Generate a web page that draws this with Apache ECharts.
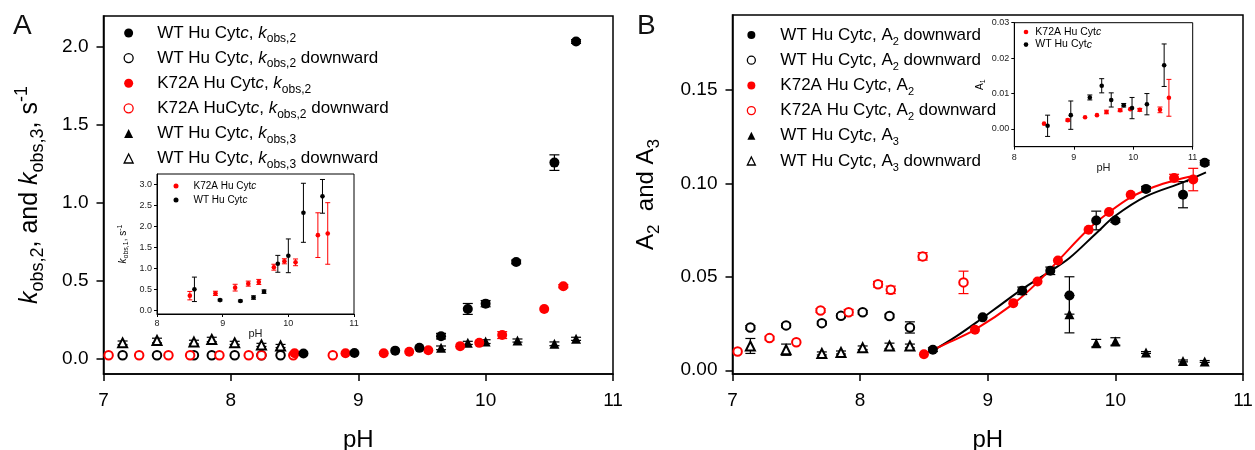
<!DOCTYPE html>
<html>
<head>
<meta charset="utf-8">
<script src="https://cdn.jsdelivr.net/npm/echarts@6/dist/echarts.min.js"></script>
<style>
html,body{margin:0;padding:0;background:#fff}
#chart{width:1255px;height:450px}
</style>
</head>
<body>
<div id="chart"></div>
<script>
// Each point: [pH, value, error]

// Panel A – observed rate constants
const wtK2 = [[8.57,0.032,0],[8.97,0.035,0],[9.29,0.05,0],[9.48,0.068,0],[9.65,0.143,0.018],[9.86,0.318,0.035],[10.0,0.352,0.02],[10.24,0.62,0.012],[10.54,1.258,0.05],[10.71,2.036,0.012]];
const wtK2Down = [[7.15,0.02,0],[7.42,0.02,0],[7.71,0.02,0],[7.85,0.02,0],[8.03,0.02,0],[8.24,0.02,0],[8.39,0.02,0]];
const k72aK2 = [[8.50,0.033,0],[8.90,0.033,0],[9.20,0.033,0],[9.40,0.043,0],[9.55,0.053,0],[9.80,0.079,0],[9.95,0.10,0],[10.13,0.15,0.022],[10.46,0.318,0],[10.61,0.464,0.01]];
const k72aK2Down = [[7.04,0.02,0],[7.28,0.02,0],[7.51,0.02,0],[7.68,0.02,0],[7.91,0.02,0],[8.14,0.02,0],[8.24,0.02,0],[8.49,0.02,0],[8.80,0.02,0]];
const wtK3 = [[9.65,0.068,0.012],[9.86,0.10,0.01],[10.0,0.108,0.012],[10.25,0.115,0.01],[10.54,0.094,0.012],[10.71,0.126,0.01]];
const wtK3Down = [[7.15,0.10,0.012],[7.42,0.115,0.015],[7.71,0.105,0.012],[7.85,0.122,0.014],[8.03,0.10,0.01],[8.24,0.087,0.01],[8.39,0.08,0.01]];

// Panel A inset – kobs,1
const k72aK1 = [[8.50,0.355,0.1],[8.89,0.41,0.05],[9.19,0.545,0.08],[9.39,0.64,0.06],[9.55,0.68,0.06],[9.78,1.03,0.07],[9.94,1.17,0.06],[10.11,1.145,0.08],[10.45,1.79,0.53],[10.60,1.83,0.73]];
const wtK1 = [[8.57,0.505,0.29],[8.96,0.25,0.02],[9.27,0.23,0.02],[9.47,0.31,0.04],[9.63,0.45,0.04],[9.84,1.11,0.2],[10.0,1.30,0.4],[10.23,2.32,0.7],[10.52,2.71,0.4]];

// Panel B – amplitudes
const wtA2 = [[8.57,0.011,0.001],[8.96,0.0283,0],[9.27,0.0425,0.002],[9.49,0.0532,0.002],[9.64,0.040,0.010],[9.85,0.0801,0.005],[10.0,0.0801,0.001],[10.24,0.097,0.0012],[10.53,0.0939,0.007],[10.70,0.111,0.0012]];
const wtA2Down = [[7.14,0.0229,0.001],[7.42,0.024,0.001],[7.70,0.0252,0.001],[7.85,0.0291,0.001],[8.02,0.031,0.001],[8.23,0.029,0.001],[8.39,0.0229,0.003]];
const k72aA2 = [[8.50,0.0086,0],[8.90,0.0217,0],[9.20,0.0359,0],[9.39,0.0475,0],[9.55,0.0587,0],[9.79,0.0751,0],[9.95,0.0846,0],[10.12,0.0939,0],[10.46,0.1028,0.002],[10.61,0.102,0.006]];
const k72aA2Down = [[7.04,0.010,0],[7.29,0.0172,0.001],[7.50,0.015,0],[7.69,0.032,0.001],[7.91,0.031,0.0015],[8.14,0.046,0.0015],[8.24,0.043,0.002],[8.49,0.0609,0.002],[8.81,0.047,0.006]];
const wtA3 = [[9.64,0.030,0.010],[9.85,0.0145,0.002],[10.0,0.0154,0.002],[10.24,0.0095,0.0005],[10.53,0.005,0.0005],[10.70,0.0047,0.0005]];
const wtA3Down = [[7.14,0.013,0.004],[7.42,0.011,0.003],[7.70,0.009,0.0008],[7.85,0.0095,0.0008],[8.02,0.012,0.001],[8.23,0.013,0.0015],[8.39,0.013,0.001]];

// Fitted titration curves (pH, A2)
const wtA2Fit = [[8.57,0.0105],[8.75,0.018],[8.94,0.027],[9.1,0.035],[9.27,0.0434],[9.49,0.053],[9.64,0.060],[9.85,0.0733],[10.0,0.0826],[10.24,0.093],[10.53,0.1005],[10.71,0.1058]];
const k72aA2Fit = [[8.50,0.0086],[8.70,0.015],[8.90,0.0217],[9.20,0.0355],[9.39,0.047],[9.55,0.0585],[9.79,0.0755],[9.95,0.0845],[10.12,0.0925],[10.30,0.098],[10.46,0.1015],[10.62,0.104]];

// Panel B inset – A1
const k72aA1 = [[8.50,0.0015,0],[8.90,0.0025,0.0003],[9.19,0.0033,0],[9.39,0.0039,0],[9.55,0.0048,0.0005],[9.78,0.0053,0.0004],[9.95,0.0056,0],[10.11,0.0054,0.0004],[10.45,0.0054,0.0008],[10.60,0.0088,0.0052]];
const wtA1 = [[8.56,0.0009,0.003],[8.95,0.0039,0.004],[9.27,0.0089,0.0007],[9.47,0.0122,0.002],[9.63,0.0082,0.002],[9.84,0.0067,0.0005],[9.98,0.0059,0.003],[10.23,0.0070,0.003],[10.52,0.018,0.006]];

// Tick values
const pHTicks = [7, 8, 9, 10, 11];
const insetPHTicks = [8, 9, 10, 11];
const kTicks = [0, 0.5, 1.0, 1.5, 2.0];
const k1Ticks = [0, 0.5, 1.0, 1.5, 2.0, 2.5, 3.0];
const ampTicks = [0, 0.05, 0.10, 0.15];
const a1Ticks = [0, 0.01, 0.02, 0.03];

const FONT = 'Liberation Sans, Arial, Helvetica, sans-serif';
const RED = '#ff0000';
const BLACK = '#000000';

// Legend labels (rich text)
const LABELS = {
  aWtK2: '{n|WT Hu Cyt}{i|c}{n|, }{i|k}{s|obs,2}',
  aWtK2D: '{n|WT Hu Cyt}{i|c}{n|, }{i|k}{s|obs,2}{n| downward}',
  aK72K2: '{n|K72A Hu Cyt}{i|c}{n|, }{i|k}{s|obs,2}',
  aK72K2D: '{n|K72A HuCyt}{i|c}{n|, }{i|k}{s|obs,2}{n| downward}',
  aWtK3: '{n|WT Hu Cyt}{i|c}{n|, }{i|k}{s|obs,3}',
  aWtK3D: '{n|WT Hu Cyt}{i|c}{n|, }{i|k}{s|obs,3}{n| downward}',
  iaK72: '{n|K72A Hu Cyt}{i|c}',
  iaWt: '{n|WT Hu Cyt}{i|c}',
  bWtA2: '{n|WT Hu Cyt}{i|c}{n|, A}{s|2}{n| downward}',
  bWtA2D: '{n|WT Hu Cyt}{i|c}{n|, A}{s|2}{n| downward}',
  bK72A2: '{n|K72A Hu Cyt}{i|c}{n|, A}{s|2}',
  bK72A2D: '{n|K72A Hu Cyt}{i|c}{n|, A}{s|2}{n| downward}',
  bWtA3: '{n|WT Hu Cyt}{i|c}{n|, A}{s|3}',
  bWtA3D: '{n|WT Hu Cyt}{i|c}{n|, A}{s|3}{n| downward}',
  ibK72: '{n|K72A Hu Cyt}{i|c}',
  ibWt: '{n|WT Hu Cyt}{i|c}'
};

function richSet(size, lh, subSize) {
  return {
    n: {fontSize: size, lineHeight: lh, fontFamily: FONT, color: BLACK},
    i: {fontSize: size, lineHeight: lh, fontFamily: FONT, color: BLACK, fontStyle: 'italic'},
    s: {fontSize: subSize, lineHeight: subSize, fontFamily: FONT, color: BLACK, verticalAlign: 'bottom'},
    p: {fontSize: subSize, lineHeight: subSize, fontFamily: FONT, color: BLACK, verticalAlign: 'top'}
  };
}

function xy(arr) { return arr.map(d => [d[0], d[1]]); }
function withErr(arr) { return arr.filter(d => d[2] > 0); }

function scatter(name, arr, gi, symbol, size, color, open) {
  return {
    type: 'scatter', name: name, xAxisIndex: gi, yAxisIndex: gi,
    data: xy(arr), symbol: symbol, symbolSize: size,
    itemStyle: open ? {color: color, borderWidth: 1.3, opacity: 1} : {color: color, opacity: 1},
    z: 3, silent: true, animation: false
  };
}

function errorBars(arr, gi, color, cap, lw) {
  return {
    type: 'custom', xAxisIndex: gi, yAxisIndex: gi, data: withErr(arr),
    encode: {x: 0, y: 1}, z: 2, silent: true, animation: false,
    renderItem: function (params, api) {
      const x = api.value(0), y = api.value(1), e = api.value(2);
      const hi = api.coord([x, y + e]);
      const lo = api.coord([x, y - e]);
      const st = {stroke: color, lineWidth: lw};
      return {
        type: 'group',
        children: [
          {type: 'line', shape: {x1: hi[0], y1: hi[1], x2: lo[0], y2: lo[1]}, style: st},
          {type: 'line', shape: {x1: hi[0] - cap, y1: hi[1], x2: hi[0] + cap, y2: hi[1]}, style: st},
          {type: 'line', shape: {x1: lo[0] - cap, y1: lo[1], x2: lo[0] + cap, y2: lo[1]}, style: st}
        ]
      };
    }
  };
}

function fitLine(arr, gi, color) {
  return {
    type: 'line', xAxisIndex: gi, yAxisIndex: gi, data: arr, smooth: 0.35,
    showSymbol: false, symbol: 'none', lineStyle: {color: color, width: 2},
    z: 2, silent: true, animation: false
  };
}

function mainXAxis(gi) {
  return {
    gridIndex: gi, type: 'value', min: 7, max: 11, interval: 1,
    axisLine: {show: true, onZero: false, lineStyle: {color: BLACK, width: 1.5}},
    axisTick: {show: true, length: 7, customValues: pHTicks, lineStyle: {color: BLACK, width: 1.5}},
    axisLabel: {fontSize: 19, color: BLACK, margin: 17, fontFamily: FONT, customValues: pHTicks},
    splitLine: {show: false},
    name: 'pH', nameLocation: 'middle', nameGap: 54,
    nameTextStyle: {fontSize: 24, color: BLACK, fontFamily: FONT}
  };
}

function insetXAxis(gi, nameGap, margin) {
  return {
    gridIndex: gi, type: 'value', min: 8, max: 11, interval: 1,
    axisLine: {show: true, onZero: false, lineStyle: {color: BLACK, width: 1}},
    axisTick: {show: true, length: 3, customValues: insetPHTicks, lineStyle: {color: BLACK, width: 1}},
    axisLabel: {fontSize: 9, color: '#222', margin: margin, fontFamily: FONT, customValues: insetPHTicks},
    splitLine: {show: false},
    name: 'pH', nameLocation: 'middle', nameGap: nameGap,
    nameTextStyle: {fontSize: 11, color: '#222', fontFamily: FONT}
  };
}

function yAxis(gi, min, max, ticks, digits, opts) {
  return {
    gridIndex: gi, type: 'value', min: min, max: max,
    axisLine: {show: true, onZero: false, lineStyle: {color: BLACK, width: opts.lw}},
    axisTick: {show: true, length: opts.tick, customValues: ticks, lineStyle: {color: BLACK, width: opts.lw}},
    axisLabel: {
      fontSize: opts.fs, color: opts.color, margin: opts.margin, fontFamily: FONT,
      customValues: ticks, formatter: v => v.toFixed(digits)
    },
    splitLine: {show: false},
    name: opts.name, nameLocation: 'middle', nameRotate: 90, nameGap: opts.nameGap,
    nameTextStyle: {rich: opts.rich}
  };
}

function legendItem(name, icon, color, open) {
  return open
    ? {name: name, icon: icon, itemStyle: {color: '#fff', borderColor: color, borderWidth: 1.3}}
    : {name: name, icon: icon, itemStyle: {color: color, borderWidth: 0}};
}

function grid(left, top, width, height, bw) {
  return {
    left: left, top: top, width: width, height: height, show: true,
    borderColor: BLACK, borderWidth: bw, backgroundColor: 'transparent',
    containLabel: false, outerBoundsMode: 'none'
  };
}

const option = {
  animation: false,
  backgroundColor: '#fff',
  title: [
    {text: 'A', left: 13, top: 12, padding: 0, textStyle: {fontSize: 28, fontWeight: 'normal', color: '#111', fontFamily: FONT}},
    {text: 'B', left: 637, top: 12, padding: 0, textStyle: {fontSize: 28, fontWeight: 'normal', color: '#111', fontFamily: FONT}}
  ],
  grid: [
    grid(103.5, 16, 509.5, 358, 1.5),
    grid(157, 174, 197, 140, 1),
    grid(732.5, 15, 510.5, 359, 1.5),
    grid(1014.3, 22.7, 178.4, 124, 1)
  ],
  xAxis: [mainXAxis(0), insetXAxis(1, 13, 5), mainXAxis(2), insetXAxis(3, 15, 6)],
  yAxis: [
    yAxis(0, -0.1, 2.2, kTicks, 1, {lw: 1.5, tick: 7, fs: 19, color: BLACK, margin: 15, nameGap: 56,
      name: '{i|k}{s|obs,2}{n|, and }{i|k}{s|obs,3}{n|, s}{p|-1}', rich: richSet(25, 34, 18)}),
    yAxis(1, -0.08, 3.24, k1Ticks, 1, {lw: 1, tick: 3, fs: 9, color: '#222', margin: 5, nameGap: 27,
      name: '{i|k}{s|obs,1}{n|, s}{p|-1}', rich: richSet(10, 13, 7)}),
    yAxis(2, -0.002, 0.19, ampTicks, 2, {lw: 1.5, tick: 7, fs: 19, color: BLACK, margin: 15, nameGap: 70,
      name: '{n|A}{s|2}{n|  and A}{s|3}', rich: richSet(24, 32, 17)}),
    yAxis(3, -0.005, 0.03, a1Ticks, 2, {lw: 1, tick: 3, fs: 9, color: '#222', margin: 5, nameGap: 28,
      name: '{n|A}{s|1}', rich: richSet(10, 13, 7)})
  ],
  legend: [
    {
      data: [
        legendItem('aWtK2', 'circle', BLACK, false),
        legendItem('aWtK2D', 'circle', BLACK, true),
        legendItem('aK72K2', 'circle', RED, false),
        legendItem('aK72K2D', 'circle', RED, true),
        legendItem('aWtK3', 'triangle', BLACK, false),
        legendItem('aWtK3D', 'triangle', BLACK, true)
      ],
      orient: 'vertical', left: 123.5, top: 24.5, padding: 0, itemWidth: 9, itemHeight: 9, itemGap: 4.6,
      selectedMode: false, formatter: n => LABELS[n],
      textStyle: {padding: [0, 0, 0, 19], rich: richSet(17, 24, 12)}
    },
    {
      data: [legendItem('iaK72', 'circle', RED, false), legendItem('iaWt', 'circle', BLACK, false)],
      orient: 'vertical', left: 173.5, top: 181, padding: 0, itemWidth: 5, itemHeight: 5, itemGap: 4,
      selectedMode: false, formatter: n => LABELS[n],
      textStyle: {padding: [0, 0, 0, 10], rich: richSet(10, 12, 7)}
    },
    {
      data: [
        legendItem('bWtA2', 'circle', BLACK, false),
        legendItem('bWtA2D', 'circle', BLACK, true),
        legendItem('bK72A2', 'circle', RED, false),
        legendItem('bK72A2D', 'circle', RED, true),
        legendItem('bWtA3', 'triangle', BLACK, false),
        legendItem('bWtA3D', 'triangle', BLACK, true)
      ],
      orient: 'vertical', left: 746.7, top: 26.5, padding: 0, itemWidth: 8, itemHeight: 8, itemGap: 4.7,
      selectedMode: false, formatter: n => LABELS[n],
      textStyle: {padding: [0, 0, 0, 20], rich: richSet(17, 24, 11)}
    },
    {
      data: [legendItem('ibK72', 'circle', RED, false), legendItem('ibWt', 'circle', BLACK, false)],
      orient: 'vertical', left: 1023.7, top: 26.5, padding: 0, itemWidth: 4.6, itemHeight: 4.6, itemGap: 1.6,
      selectedMode: false, formatter: n => LABELS[n],
      textStyle: {padding: [0, 0, 0, 2], rich: richSet(10.5, 11, 7)}
    }
  ],
  series: [
    // Panel A
    errorBars(k72aK2, 0, RED, 5, 1.2),
    errorBars(wtK2, 0, BLACK, 5, 1.2),
    errorBars(wtK3, 0, BLACK, 5, 1.2),
    errorBars(wtK3Down, 0, BLACK, 5, 1.2),
    scatter('aWtK2D', wtK2Down, 0, 'emptyCircle', 8.5, BLACK, true),
    scatter('aK72K2D', k72aK2Down, 0, 'emptyCircle', 8.5, RED, true),
    scatter('aWtK3D', wtK3Down, 0, 'emptyTriangle', 9, BLACK, true),
    scatter('aWtK3', wtK3, 0, 'triangle', 10, BLACK, false),
    scatter('aK72K2', k72aK2, 0, 'circle', 10, RED, false),
    scatter('aWtK2', wtK2, 0, 'circle', 10, BLACK, false),
    // Panel A inset
    errorBars(k72aK1, 1, RED, 2.5, 1),
    errorBars(wtK1, 1, BLACK, 2.5, 1),
    scatter('iaK72', k72aK1, 1, 'circle', 4.6, RED, false),
    scatter('iaWt', wtK1, 1, 'circle', 4.6, BLACK, false),
    // Panel B
    errorBars(wtA2Down, 2, BLACK, 5, 1.2),
    errorBars(k72aA2Down, 2, RED, 5, 1.2),
    errorBars(wtA3Down, 2, BLACK, 5, 1.2),
    errorBars(wtA2, 2, BLACK, 5, 1.2),
    errorBars(k72aA2, 2, RED, 5, 1.2),
    errorBars(wtA3, 2, BLACK, 5, 1.2),
    scatter('bWtA2D', wtA2Down, 2, 'emptyCircle', 8.5, BLACK, true),
    scatter('bK72A2D', k72aA2Down, 2, 'emptyCircle', 8.5, RED, true),
    scatter('bWtA3D', wtA3Down, 2, 'emptyTriangle', 9, BLACK, true),
    fitLine(wtA2Fit, 2, BLACK),
    fitLine(k72aA2Fit, 2, RED),
    scatter('bK72A2', k72aA2, 2, 'circle', 10, RED, false),
    scatter('bWtA2', wtA2, 2, 'circle', 10, BLACK, false),
    scatter('bWtA3', wtA3, 2, 'triangle', 10, BLACK, false),
    // Panel B inset
    errorBars(k72aA1, 3, RED, 2.5, 1),
    errorBars(wtA1, 3, BLACK, 2.5, 1),
    scatter('ibK72', k72aA1, 3, 'circle', 4.6, RED, false),
    scatter('ibWt', wtA1, 3, 'circle', 4.6, BLACK, false)
  ]
};

const chart = echarts.init(document.getElementById('chart'), null, {renderer: 'canvas'});
chart.setOption(option);
</script>
</body>
</html>
